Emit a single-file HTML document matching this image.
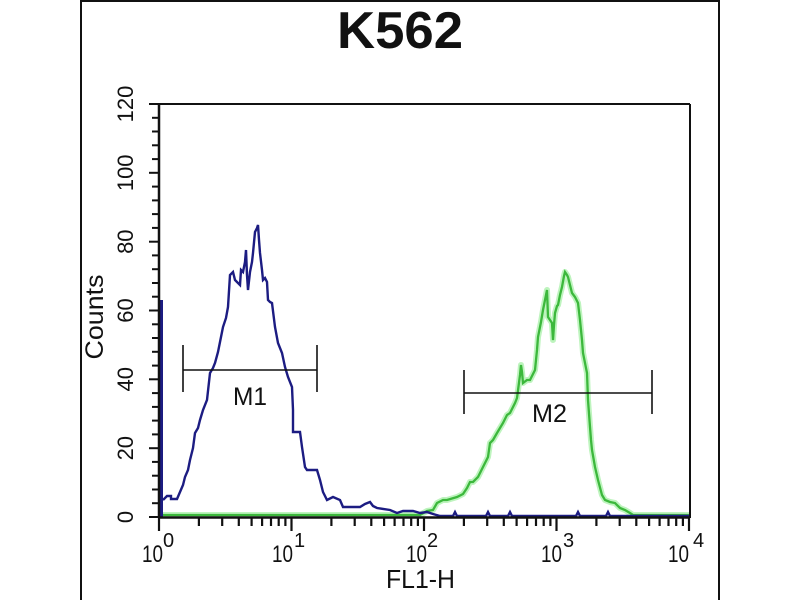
<!DOCTYPE html>
<html>
<head>
<meta charset="utf-8">
<style>
html,body{margin:0;padding:0;background:#fff;}
svg{display:block;}
text{font-family:"Liberation Sans",Arial,sans-serif;fill:#111;}
</style>
</head>
<body>
<svg width="800" height="600" viewBox="0 0 800 600" xmlns="http://www.w3.org/2000/svg">
<rect x="0" y="0" width="800" height="600" fill="#fff"/>
<!-- outer frame -->
<line x1="81" y1="0" x2="81" y2="600" stroke="#111" stroke-width="2"/>
<line x1="81" y1="1" x2="719" y2="1" stroke="#111" stroke-width="2"/>
<line x1="719" y1="0" x2="719" y2="600" stroke="#111" stroke-width="2"/>

<!-- title -->
<text x="400" y="48" font-size="52" font-weight="bold" text-anchor="middle" textLength="126" lengthAdjust="spacingAndGlyphs">K562</text>

<!-- plot box top/right -->
<line x1="159" y1="104" x2="690" y2="104" stroke="#111" stroke-width="2"/>
<line x1="690" y1="104" x2="690" y2="518" stroke="#111" stroke-width="2"/>

<!-- y ticks -->
<g stroke="#111" stroke-width="2">
<line x1="149" y1="517" x2="159" y2="517"/>
<line x1="152" y1="503.2" x2="159" y2="503.2"/>
<line x1="152" y1="489.5" x2="159" y2="489.5"/>
<line x1="152" y1="475.7" x2="159" y2="475.7"/>
<line x1="152" y1="461.9" x2="159" y2="461.9"/>
<line x1="149" y1="448.2" x2="159" y2="448.2"/>
<line x1="152" y1="434.4" x2="159" y2="434.4"/>
<line x1="152" y1="420.6" x2="159" y2="420.6"/>
<line x1="152" y1="406.9" x2="159" y2="406.9"/>
<line x1="152" y1="393.1" x2="159" y2="393.1"/>
<line x1="149" y1="379.3" x2="159" y2="379.3"/>
<line x1="152" y1="365.6" x2="159" y2="365.6"/>
<line x1="152" y1="351.8" x2="159" y2="351.8"/>
<line x1="152" y1="338.0" x2="159" y2="338.0"/>
<line x1="152" y1="324.3" x2="159" y2="324.3"/>
<line x1="149" y1="310.5" x2="159" y2="310.5"/>
<line x1="152" y1="296.7" x2="159" y2="296.7"/>
<line x1="152" y1="283.0" x2="159" y2="283.0"/>
<line x1="152" y1="269.2" x2="159" y2="269.2"/>
<line x1="152" y1="255.4" x2="159" y2="255.4"/>
<line x1="149" y1="241.7" x2="159" y2="241.7"/>
<line x1="152" y1="227.9" x2="159" y2="227.9"/>
<line x1="152" y1="214.1" x2="159" y2="214.1"/>
<line x1="152" y1="200.4" x2="159" y2="200.4"/>
<line x1="152" y1="186.6" x2="159" y2="186.6"/>
<line x1="149" y1="172.8" x2="159" y2="172.8"/>
<line x1="152" y1="159.1" x2="159" y2="159.1"/>
<line x1="152" y1="145.3" x2="159" y2="145.3"/>
<line x1="152" y1="131.5" x2="159" y2="131.5"/>
<line x1="152" y1="117.8" x2="159" y2="117.8"/>
<line x1="149" y1="104" x2="159" y2="104"/>
</g>

<!-- y tick labels (rotated) -->
<g font-size="22" text-anchor="middle">
<text transform="translate(133,517) rotate(-90)">0</text>
<text transform="translate(133,448.2) rotate(-90)">20</text>
<text transform="translate(133,379.3) rotate(-90)">40</text>
<text transform="translate(133,310.5) rotate(-90)">60</text>
<text transform="translate(133,241.7) rotate(-90)">80</text>
<text transform="translate(133,172.8) rotate(-90)">100</text>
<text transform="translate(133,104) rotate(-90)">120</text>
</g>
<text transform="translate(103,317) rotate(-90)" font-size="25" text-anchor="middle" textLength="85" lengthAdjust="spacingAndGlyphs">Counts</text>

<!-- x ticks -->
<g stroke="#111" stroke-width="2.2">
<line x1="159" y1="517" x2="159" y2="531"/>
<line x1="198.9" y1="517" x2="198.9" y2="526"/>
<line x1="222.2" y1="517" x2="222.2" y2="526"/>
<line x1="238.8" y1="517" x2="238.8" y2="526"/>
<line x1="251.6" y1="517" x2="251.6" y2="526"/>
<line x1="262.1" y1="517" x2="262.1" y2="526"/>
<line x1="271.0" y1="517" x2="271.0" y2="526"/>
<line x1="278.7" y1="517" x2="278.7" y2="526"/>
<line x1="285.4" y1="517" x2="285.4" y2="526"/>
<line x1="291.5" y1="517" x2="291.5" y2="531"/>
<line x1="331.4" y1="517" x2="331.4" y2="526"/>
<line x1="354.7" y1="517" x2="354.7" y2="526"/>
<line x1="371.3" y1="517" x2="371.3" y2="526"/>
<line x1="384.1" y1="517" x2="384.1" y2="526"/>
<line x1="394.6" y1="517" x2="394.6" y2="526"/>
<line x1="403.5" y1="517" x2="403.5" y2="526"/>
<line x1="411.2" y1="517" x2="411.2" y2="526"/>
<line x1="417.9" y1="517" x2="417.9" y2="526"/>
<line x1="424" y1="517" x2="424" y2="531"/>
<line x1="463.9" y1="517" x2="463.9" y2="526"/>
<line x1="487.2" y1="517" x2="487.2" y2="526"/>
<line x1="503.8" y1="517" x2="503.8" y2="526"/>
<line x1="516.6" y1="517" x2="516.6" y2="526"/>
<line x1="527.1" y1="517" x2="527.1" y2="526"/>
<line x1="536.0" y1="517" x2="536.0" y2="526"/>
<line x1="543.7" y1="517" x2="543.7" y2="526"/>
<line x1="550.4" y1="517" x2="550.4" y2="526"/>
<line x1="556.5" y1="517" x2="556.5" y2="531"/>
<line x1="596.4" y1="517" x2="596.4" y2="526"/>
<line x1="619.7" y1="517" x2="619.7" y2="526"/>
<line x1="636.3" y1="517" x2="636.3" y2="526"/>
<line x1="649.1" y1="517" x2="649.1" y2="526"/>
<line x1="659.6" y1="517" x2="659.6" y2="526"/>
<line x1="668.5" y1="517" x2="668.5" y2="526"/>
<line x1="676.2" y1="517" x2="676.2" y2="526"/>
<line x1="682.9" y1="517" x2="682.9" y2="526"/>
<line x1="689" y1="517" x2="689" y2="531"/>
</g>

<!-- x tick labels -->
<g font-size="24">
<text x="142" y="562" textLength="21" lengthAdjust="spacingAndGlyphs">10</text>
<text x="163" y="547" font-size="20">0</text>
<text x="272" y="562" textLength="21" lengthAdjust="spacingAndGlyphs">10</text>
<text x="294" y="547" font-size="20">1</text>
<text x="406" y="562" textLength="21" lengthAdjust="spacingAndGlyphs">10</text>
<text x="427" y="547" font-size="20">2</text>
<text x="541" y="562" textLength="21" lengthAdjust="spacingAndGlyphs">10</text>
<text x="563" y="547" font-size="20">3</text>
<text x="668" y="562" textLength="21" lengthAdjust="spacingAndGlyphs">10</text>
<text x="693" y="547" font-size="20">4</text>
</g>
<text x="386" y="588" font-size="26" textLength="69" lengthAdjust="spacingAndGlyphs">FL1-H</text>

<!-- green histogram -->
<polyline fill="none" stroke="#a8f0a8" stroke-opacity="0.75" stroke-width="6" stroke-linejoin="round" points="159,515 420,515 427,511 433,510 437,503 443,500 447,500 457,497 463,494 467,488 470,482 473,482 478,477 480,473 483,467 488,457 490,443 493,440 497,433 503,423 507,415 510,413 515,403 517,398 520,375 521,365 522,372 523,383 527,380 530,380 533,374 535,370 537,350 538,337 541,322 543,310 545,300 547,290 548,317 550,320 552,323 553,340 554,325 555,313 557,306 558,305 560,295 562,287 564,276 565,272 567,275 568,277 570,285 572,293 575,297 578,303 580,320 582,340 583,353 587,373 588,400 590,427 591,440 592,450 595,467 598,480 602,495 605,500 610,502 615,503 620,508 625,510 630,513 633,515 689,515"/>
<polyline fill="none" stroke="#3cb83c" stroke-width="2.3" stroke-linejoin="miter" points="159,515 420,515 427,511 433,510 437,503 443,500 447,500 457,497 463,494 467,488 470,482 473,482 478,477 480,473 483,467 488,457 490,443 493,440 497,433 503,423 507,415 510,413 515,403 517,398 520,375 521,365 522,372 523,383 527,380 530,380 533,374 535,370 537,350 538,337 541,322 543,310 545,300 547,290 548,317 550,320 552,323 553,340 554,325 555,313 557,306 558,305 560,295 562,287 564,276 565,272 567,275 568,277 570,285 572,293 575,297 578,303 580,320 582,340 583,353 587,373 588,400 590,427 591,440 592,450 595,467 598,480 602,495 605,500 610,502 615,503 620,508 625,510 630,513 633,515 689,515"/>

<!-- blue histogram -->
<rect x="158" y="300" width="5" height="217" fill="#1c1c82"/>
<polyline fill="none" stroke="#1c1c82" stroke-width="2.4" stroke-linejoin="miter" points="163,500 167,496 171,496 171,499 177,499 180,492 183,485 185,477 188,470 190,460 193,448 195,433 198,428 200,420 203,410 207,400 210,373 213,368 215,363 218,352 220,342 223,327 226,318 228,307 230,275 233,272 235,280 237,282 240,285 241,270 243,272 245,262 246,250 247,275 248,290 250,272 252,262 253,253 255,232 257,228 258,225 259,240 260,253 262,270 263,280 265,278 267,282 268,300 270,302 272,303 275,327 278,343 282,353 285,367 288,377 292,387 293,410 293,432 300,432 302,447 305,467 307,470 317,470 320,480 323,492 327,500 333,497 340,500 343,507 353,507 360,507 365,504 370,502 373,506 377,508 390,510 397,513 403,511 413,511 420,513 427,512 433,514 440,516 453,516 455,512 457,516 486,516 488,512 490,516 508,516 510,512 512,516 576,516 578,512 580,516 606,516 608,512 610,516 689,516"/>

<!-- axes -->
<line x1="159" y1="104" x2="159" y2="518" stroke="#111" stroke-width="2.5"/>
<line x1="158" y1="517.5" x2="690" y2="517.5" stroke="#111" stroke-width="2.5"/>

<!-- markers -->
<g stroke="#111" stroke-width="1.6">
<line x1="183" y1="370" x2="317" y2="370"/>
<line x1="183" y1="345" x2="183" y2="392"/>
<line x1="317" y1="345" x2="317" y2="392"/>
<line x1="464" y1="393" x2="652" y2="393"/>
<line x1="464" y1="370" x2="464" y2="414"/>
<line x1="652" y1="370" x2="652" y2="414"/>
</g>
<text x="233" y="405" font-size="25" textLength="34" lengthAdjust="spacingAndGlyphs">M1</text>
<text x="532" y="422" font-size="25" textLength="35" lengthAdjust="spacingAndGlyphs">M2</text>
</svg>
</body>
</html>
